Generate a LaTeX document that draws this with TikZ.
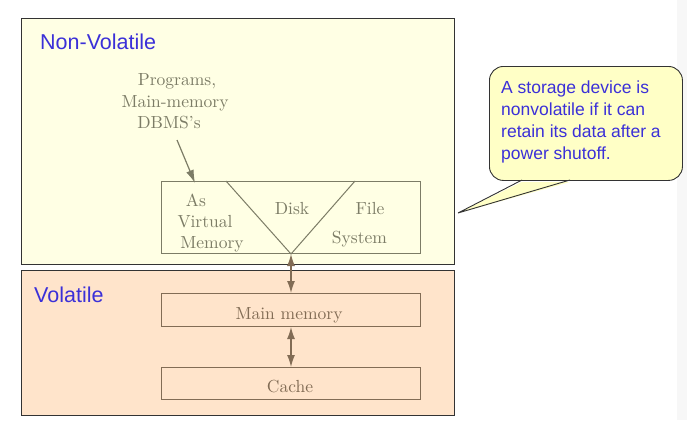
\documentclass[tikz,border=0pt]{standalone}
\usepackage{fontspec}
\newfontfamily\lsans{Liberation Sans}
\newfontfamily\lmten{lmroman10-regular}[Extension=.otf, Ligatures=TeX]
\usetikzlibrary{arrows.meta}
\definecolor{nvfill}{HTML}{FFFFE4}
\definecolor{vfill}{HTML}{FFE4CB}
\definecolor{labblue}{HTML}{3B30D8}
\definecolor{olive}{HTML}{7C7C66}
\definecolor{brownish}{HTML}{826C55}
\definecolor{callfill}{HTML}{FFFFC6}
\tikzset{
  region/.style={draw=black!80, line width=0.9pt, anchor=north west, inner sep=0pt},
  diskbox/.style={draw=olive, line width=1pt, anchor=north west, inner sep=0pt, minimum width=259pt, minimum height=72pt},
  membox/.style={draw=brownish, line width=1pt, anchor=north west, inner sep=0pt, minimum width=259pt},
  serifolive/.style={text=olive, font=\lmten\fontsize{17.5}{22}\selectfont, inner sep=0pt, anchor=base},
  serifbrown/.style={text=brownish, font=\lmten\fontsize{17.5}{22}\selectfont, inner sep=0pt, anchor=base},
  reglabel/.style={text=labblue, font=\lsans\fontsize{21.5}{26}\selectfont, inner sep=0pt, anchor=base west},
  calltext/.style={text=labblue, font=\lsans\fontsize{17.5}{22}\selectfont, inner sep=0pt, anchor=base west},
  memarrow/.style={draw=brownish, line width=1.3pt, {Latex[length=12pt,width=8pt]}-{Latex[length=12pt,width=8pt]}},
}
\begin{document}
\begin{tikzpicture}[x=1pt,y=-1pt]
\useasboundingbox (0,0) rectangle (687,420);
\fill[white] (0,0) rectangle (687,420);
\fill[black!3] (677,0) rectangle (687,420);
% regions
\node[region, fill=nvfill, minimum width=433pt, minimum height=246pt] (nv) at (21,18) {};
\node[region, fill=vfill, minimum width=433pt, minimum height=145pt] (vol) at (21,270) {};
\node[reglabel] (nvlab) at (40,49) {Non-Volatile};
\node[reglabel] (vlab) at (34,302) {Volatile};
% disk box
\node[diskbox] (disk) at (161,181) {};
\coordinate (tl) at (226,181);
\coordinate (tr) at (355,181);
\draw[olive, line width=1pt] (tl) -- (disk.south) -- (tr);
\node[serifolive] (as) at (196,206) {As};
\node[serifolive] (virt) at (205,227) {Virtual};
\node[serifolive] (mem) at (212,248) {Memory};
\node[serifolive] (dsk) at (292,214) {Disk};
\node[serifolive] (file) at (370,214) {File};
\node[serifolive] (sys) at (359.5,243) {System};
% programs
\node[serifolive] (p1) at (177,85) {Programs,};
\node[serifolive] (p2) at (175,107) {Main-memory};
\node[serifolive] (p3) at (169,128) {DBMS’s};
\coordinate (pa) at (177,140);
\coordinate (pb) at (195,183);
\draw[olive, line width=1.2pt, -{Latex[length=13pt,width=8pt]}] (pa) -- (pb);
% memory boxes
\node[membox, minimum height=33pt] (mm) at (161,293) {};
\node[membox, minimum height=32pt] (cache) at (161,367) {};
\node[serifbrown] (mmt) at (289,319) {Main memory};
\node[serifbrown] (cat) at (290,392) {Cache};
\draw[memarrow] (disk.south) -- (mm.north);
\draw[memarrow] (mm.south) -- (cache.north);
% callout
\node[draw=black!80, line width=0.9pt, fill=callfill, rounded corners=14pt, anchor=north west, inner sep=0pt, minimum width=193pt, minimum height=114pt] (call) at (489,66) {};
\coordinate (ptip) at (458,213);
\coordinate (pl) at (522,180);
\coordinate (pr) at (570,180);
\fill[callfill] ([yshift=-2pt]pl) -- (ptip) -- ([yshift=-2pt]pr) -- cycle;
\draw[black!80, line width=0.9pt] (pl) -- (ptip) -- (pr);
\node[calltext] (c1) at (501,93) {A storage device is};
\node[calltext] (c2) at (501,115) {nonvolatile if it can};
\node[calltext] (c3) at (501,137) {retain its data after a};
\node[calltext] (c4) at (501,159) {power shutoff.};
\end{tikzpicture}
\end{document}
